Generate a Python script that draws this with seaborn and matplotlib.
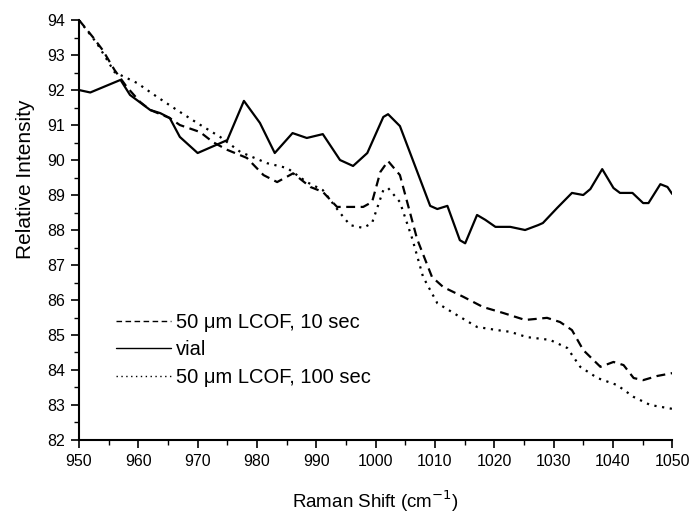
import matplotlib
matplotlib.use("Agg")
import matplotlib.pyplot as plt
from matplotlib.ticker import MultipleLocator
import seaborn as sns
import pandas as pd

sns.set_theme(style="ticks")
plt.rcParams['font.family'] = ['Liberation Sans', 'DejaVu Sans']
plt.rcParams['text.color'] = 'black'
plt.rcParams['axes.labelcolor'] = 'black'

# 50 um LCOF, 10 sec (dashed)
x_10s = [950, 952.4, 954, 956, 958, 960.3, 962, 965.3, 967, 970.4, 972.6, 975, 978.3,
         981.1, 983.4, 986.1, 989, 991.1, 993.5, 997.9, 999.4, 1000.8, 1002.1, 1004.1,
         1007.0, 1009.5, 1011.4, 1014.8, 1018.1, 1021.5, 1025.2, 1028.9, 1031.1, 1033.1,
         1035, 1037.9, 1040.1, 1041.8, 1043.5, 1045.1, 1047.5, 1050]
y_10s = [94.0, 93.5, 93.14, 92.57, 92.1, 91.66, 91.43, 91.2, 91.0, 90.8, 90.51, 90.29, 90.06,
         89.57, 89.37, 89.62, 89.23, 89.09, 88.66, 88.66, 88.8, 89.66, 89.97, 89.57,
         87.74, 86.66, 86.37, 86.09, 85.8, 85.63, 85.43, 85.49, 85.37, 85.14,
         84.57, 84.09, 84.23, 84.14, 83.77, 83.71, 83.83, 83.91]

# vial (solid)
x_vial = [950, 951.9, 957, 958.6, 962, 963.7, 965.3, 967, 970, 975, 977.8, 980.5, 983,
          986, 988.4, 991.1, 994, 996.2, 998.6, 1001.3, 1002.1, 1004.1, 1009.2, 1010.4,
          1012.1, 1014.2, 1015.1, 1017.1, 1018.5, 1020.2, 1022.7, 1025.2, 1027.4, 1028.2,
          1030.6, 1033.1, 1035, 1036.2, 1038.2, 1040.1, 1041.2, 1043.3, 1045.1, 1046,
          1048, 1049.2, 1050]
y_vial = [92.0, 91.93, 92.29, 91.86, 91.43, 91.34, 91.2, 90.66, 90.2, 90.57, 91.69, 91.06, 90.2,
          90.77, 90.63, 90.74, 90.0, 89.83, 90.2, 91.23, 91.31, 90.97, 88.69, 88.6,
          88.69, 87.71, 87.62, 88.43, 88.29, 88.09, 88.09, 88.0, 88.14, 88.2,
          88.63, 89.06, 89.0, 89.17, 89.74, 89.2, 89.06, 89.06, 88.77, 88.77,
          89.31, 89.23, 89.03]

# 50 um LCOF, 100 sec (dotted)
x_100s = [950, 953, 956, 959.8, 963.2, 966.5, 969.9, 973.8, 977.2, 981.7, 985.1, 988.4,
          991.1, 994, 995.7, 997.9, 999.4, 1001.3, 1002.1, 1004.1, 1006.2, 1008, 1010.4,
          1013.7, 1017.1, 1020.5, 1022.7, 1025.5, 1029.4, 1032.3, 1034.5, 1037.4, 1040.7,
          1043.5, 1046.3, 1050]
y_100s = [94.0, 93.34, 92.51, 92.2, 91.8, 91.43, 91.06, 90.66, 90.23, 89.91, 89.77, 89.37,
          89.14, 88.49, 88.14, 88.06, 88.2, 89.14, 89.2, 88.8, 87.74, 86.66, 85.91,
          85.57, 85.23, 85.14, 85.09, 84.94, 84.86, 84.63, 84.09, 83.77, 83.57,
          83.23, 83.0, 82.89]

labels = ["50 \u03bcm LCOF, 10 sec", "vial", "50 \u03bcm LCOF, 100 sec"]
styles = [(0, (4, 2.5)), "-", (0, (1, 2.5))]

fig = plt.figure(figsize=(6.93, 5.14), dpi=100)
ax = fig.add_axes([0.114, 0.144, 0.856, 0.817])

series = [(x_10s, y_10s), (x_vial, y_vial), (x_100s, y_100s)]
for (xs, ys), lab, ls in zip(series, labels, styles):
    df = pd.DataFrame({"x": xs, "y": ys})
    sns.lineplot(data=df, x="x", y="y", ax=ax, color="black", linestyle=ls,
                 linewidth=1.6, label=lab, sort=False)

ax.set_xlim(950, 1050)
ax.set_ylim(82, 94)
ax.xaxis.set_major_locator(MultipleLocator(10))
ax.xaxis.set_minor_locator(MultipleLocator(5))
ax.yaxis.set_major_locator(MultipleLocator(1))
ax.yaxis.set_minor_locator(MultipleLocator(0.5))
ax.tick_params(which="major", direction="out", length=6, width=1.2, labelsize=11.5,
               colors="black", pad=4)
ax.tick_params(which="minor", direction="out", length=3.5, width=1.0, colors="black")
for s in ["top", "right"]:
    ax.spines[s].set_visible(False)
for s in ["left", "bottom"]:
    ax.spines[s].set_linewidth(1.5)
    ax.spines[s].set_color("black")

ax.set_xlabel("Raman Shift (cm$^{-1}$)", fontsize=13.5, labelpad=14, color="black")
ax.set_ylabel("Relative Intensity", fontsize=15, color="black")
ax.yaxis.set_label_coords(-0.075, 0.62)

leg = ax.legend(loc="lower left", bbox_to_anchor=(0.048, 0.108), frameon=False,
                fontsize=14.5, handlelength=2.75, handletextpad=0.25, labelspacing=0.42,
                borderaxespad=0)
for h in leg.get_lines():
    h.set_linewidth(1.0)
for t in leg.get_texts():
    t.set_color("black")

fig.savefig("out.png", dpi=100)
